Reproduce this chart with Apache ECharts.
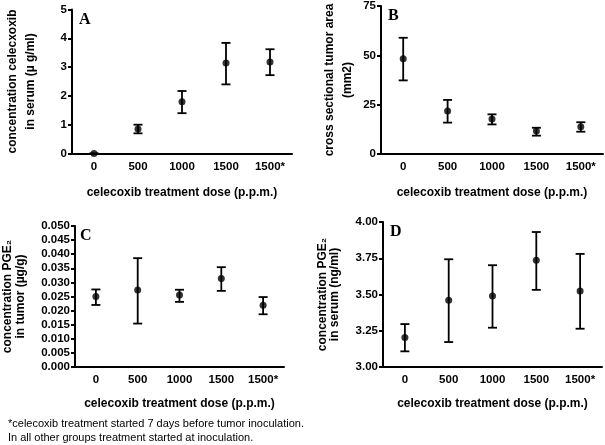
<!DOCTYPE html>
<html>
<head>
<meta charset="utf-8">
<script src="https://cdn.jsdelivr.net/npm/echarts@6/dist/echarts.min.js"></script>
<style>
html,body{margin:0;padding:0;background:#fff;}
#chart{width:605px;height:445px;}
</style>
</head>
<body>
<div id="chart"></div>
<script>
// ---- data ----
const categories = ['0', '500', '1000', '1500', '1500*'];

const serumCelecoxibMean = [0.0, 0.85, 1.80, 3.14, 3.18];
const serumCelecoxibLow  = [0.0, 0.70, 1.40, 2.40, 2.72];
const serumCelecoxibHigh = [0.0, 1.00, 2.17, 3.84, 3.62];

const tumorAreaMean = [48.3, 21.8, 17.7, 11.7, 13.8];
const tumorAreaLow  = [37.3, 15.9, 15.0, 9.3, 11.3];
const tumorAreaHigh = [58.9, 27.4, 20.1, 13.3, 16.1];

const tumorPGE2Mean = [0.0250, 0.0273, 0.0255, 0.0314, 0.0219];
const tumorPGE2Low  = [0.0220, 0.0154, 0.0231, 0.0270, 0.0187];
const tumorPGE2High = [0.0275, 0.0386, 0.0274, 0.0354, 0.0248];

const serumPGE2Mean = [3.204, 3.461, 3.489, 3.736, 3.525];
const serumPGE2Low  = [3.108, 3.172, 3.271, 3.532, 3.264];
const serumPGE2High = [3.296, 3.743, 3.702, 3.931, 3.780];

const xAxisName = 'celecoxib treatment dose (p.p.m.)';
const footnote = '*celecoxib treatment started 7 days before tumor inoculation.\nIn all other groups treatment started at inoculation.';

// ---- chart ----
const FONT = '"Liberation Sans", Arial, sans-serif';
const chart = echarts.init(document.getElementById('chart'), null, {renderer: 'canvas'});

const grids = [
  {left: 72, top: 9.5, width: 220, height: 144},
  {left: 381, top: 6, width: 222, height: 148},
  {left: 73, top: 226, width: 211, height: 141},
  {left: 383, top: 222, width: 219, height: 145}
];

const panels = [
  {letter: 'A', mean: serumCelecoxibMean, low: serumCelecoxibLow, high: serumCelecoxibHigh,
   min: 0, max: 5, interval: 1, digits: 0,
   name: 'concentration celecxoxib\nin serum (\u00b5 g/ml)', nameGap: 32, lineHeight: 18},
  {letter: 'B', mean: tumorAreaMean, low: tumorAreaLow, high: tumorAreaHigh,
   min: 0, max: 75, interval: 25, digits: 0,
   name: 'cross sectional tumor area\n(mm2)', nameGap: 24, lineHeight: 18},
  {letter: 'C', mean: tumorPGE2Mean, low: tumorPGE2Low, high: tumorPGE2High,
   min: 0, max: 0.05, interval: 0.005, digits: 3,
   name: 'concentration PGE\u2082\nin tumor (\u00b5g/g)', nameGap: 48, lineHeight: 13},
  {letter: 'D', mean: serumPGE2Mean, low: serumPGE2Low, high: serumPGE2High,
   min: 3, max: 4, interval: 0.25, digits: 2,
   name: 'concentration PGE\u2082\nin serum (ng/ml)', nameGap: 42, lineHeight: 12}
];

const axisLine = {lineStyle: {color: '#000', width: 2}};

const xAxes = panels.map((p, i) => ({
  type: 'category', gridIndex: i, data: categories, boundaryGap: true,
  axisLine: axisLine,
  axisTick: {alignWithLabel: true, length: 4, lineStyle: {color: '#000', width: 2}},
  axisLabel: {color: '#000', fontFamily: FONT, fontWeight: 'bold', fontSize: 11.5, margin: 7},
  name: xAxisName, nameLocation: 'middle', nameGap: i < 2 ? 33 : 31,
  nameTextStyle: {color: '#000', fontFamily: FONT, fontWeight: 'bold', fontSize: 12},
  splitLine: {show: false}
}));

const yAxes = panels.map((p, i) => ({
  type: 'value', gridIndex: i, min: p.min, max: p.max, interval: p.interval,
  axisLine: {show: true, lineStyle: {color: '#000', width: 2}},
  axisTick: {show: true, length: 4, lineStyle: {color: '#000', width: 2}},
  axisLabel: {color: '#000', fontFamily: FONT, fontWeight: 'bold', fontSize: 11.5, margin: 5,
    formatter: v => v.toFixed(p.digits)},
  splitLine: {show: false},
  name: p.name, nameLocation: 'middle', nameGap: p.nameGap,
  nameTextStyle: {color: '#000', fontFamily: FONT, fontWeight: 'bold', fontSize: 12,
    lineHeight: p.lineHeight, align: 'center'}
}));

const series = [];
panels.forEach((p, i) => {
  series.push({
    type: 'custom', xAxisIndex: i, yAxisIndex: i,
    data: p.mean.map((m, k) => [k, p.low[k], p.high[k]]),
    encode: {x: 0, y: [1, 2]},
    renderItem: function (params, api) {
      const x = api.value(0);
      const lo = api.coord([x, api.value(1)]);
      const hi = api.coord([x, api.value(2)]);
      const cap = 4.5;
      const style = {stroke: '#000', lineWidth: 1.8, fill: null};
      return {
        type: 'group',
        children: [
          {type: 'line', shape: {x1: lo[0], y1: lo[1], x2: hi[0], y2: hi[1]}, style: style},
          {type: 'line', shape: {x1: lo[0] - cap, y1: lo[1], x2: lo[0] + cap, y2: lo[1]}, style: style},
          {type: 'line', shape: {x1: hi[0] - cap, y1: hi[1], x2: hi[0] + cap, y2: hi[1]}, style: style}
        ]
      };
    },
    z: 2, silent: true
  });
  series.push({
    type: 'scatter', xAxisIndex: i, yAxisIndex: i,
    data: p.mean.map((m, k) => [k, m]),
    symbol: 'circle', symbolSize: 7,
    itemStyle: {color: '#000'}, z: 3, silent: true
  });
});

const graphics = panels.map((p, i) => ({
  type: 'text', left: grids[i].left + 7, top: grids[i].top + 2,
  style: {text: p.letter, fill: '#000', font: 'bold 16px "Liberation Serif", "Times New Roman", serif'}
}));
graphics.push({
  type: 'text', left: 8, top: 417,
  style: {text: footnote, fill: '#000', font: '11px "Liberation Sans", Arial, sans-serif', lineHeight: 14}
});

chart.setOption({
  animation: false,
  backgroundColor: '#fff',
  grid: grids,
  xAxis: xAxes,
  yAxis: yAxes,
  series: series,
  graphic: graphics
});
</script>
</body>
</html>
